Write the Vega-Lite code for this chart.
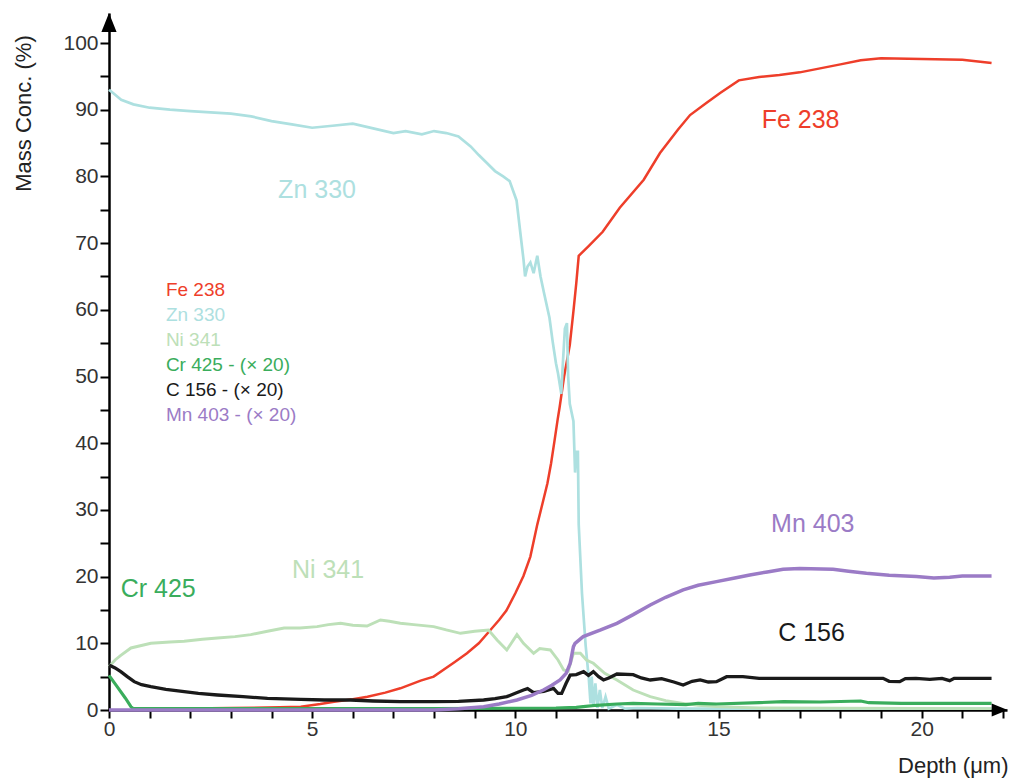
{
  "$schema": "https://vega.github.io/schema/vega-lite/v6.json",
  "autosize": "none",
  "width": 898,
  "height": 697,
  "padding": {"left": 109, "top": 13, "right": 4, "bottom": 71},
  "background": "white",
  "config": {
    "view": {"stroke": null},
    "font": "Liberation Sans",
    "axis": {"ticks": true, "tickColor": "#000000", "tickWidth": 2, "tickOpacity": 1, "grid": false, "domainColor": "#000000", "domainWidth": 2.5},
    "axisX": {"tickSize": 8},
    "axisY": {"tickSize": 9}
  },
  "datasets": {
    "lines": [
      {"s":"Fe 238","x":1.5,"y":0.2},{"s":"Fe 238","x":3.0,"y":0.3},{"s":"Fe 238","x":4.2,"y":0.4},{"s":"Fe 238","x":4.72,"y":0.5},{"s":"Fe 238","x":5.2,"y":0.9},{"s":"Fe 238","x":5.54,"y":1.25},{"s":"Fe 238","x":6.0,"y":1.6},{"s":"Fe 238","x":6.36,"y":2.0},{"s":"Fe 238","x":6.8,"y":2.6},{"s":"Fe 238","x":7.17,"y":3.25},{"s":"Fe 238","x":7.67,"y":4.4},{"s":"Fe 238","x":7.99,"y":5.0},{"s":"Fe 238","x":8.51,"y":7.2},{"s":"Fe 238","x":8.81,"y":8.5},{"s":"Fe 238","x":9.1,"y":10.0},{"s":"Fe 238","x":9.36,"y":11.8},{"s":"Fe 238","x":9.6,"y":13.5},{"s":"Fe 238","x":9.78,"y":14.9},{"s":"Fe 238","x":10.0,"y":17.5},{"s":"Fe 238","x":10.2,"y":20.1},{"s":"Fe 238","x":10.37,"y":23.0},{"s":"Fe 238","x":10.54,"y":27.8},{"s":"Fe 238","x":10.67,"y":31.0},{"s":"Fe 238","x":10.79,"y":34.0},{"s":"Fe 238","x":10.88,"y":37.0},{"s":"Fe 238","x":10.96,"y":40.2},{"s":"Fe 238","x":11.04,"y":43.5},{"s":"Fe 238","x":11.09,"y":45.4},{"s":"Fe 238","x":11.2,"y":50.0},{"s":"Fe 238","x":11.34,"y":54.7},{"s":"Fe 238","x":11.43,"y":59.8},{"s":"Fe 238","x":11.5,"y":64.0},{"s":"Fe 238","x":11.56,"y":68.1},{"s":"Fe 238","x":11.81,"y":69.6},{"s":"Fe 238","x":12.15,"y":71.7},{"s":"Fe 238","x":12.57,"y":75.3},{"s":"Fe 238","x":13.16,"y":79.5},{"s":"Fe 238","x":13.56,"y":83.5},{"s":"Fe 238","x":14.0,"y":87.0},{"s":"Fe 238","x":14.3,"y":89.2},{"s":"Fe 238","x":14.7,"y":91.0},{"s":"Fe 238","x":15.04,"y":92.5},{"s":"Fe 238","x":15.5,"y":94.4},{"s":"Fe 238","x":16.0,"y":94.9},{"s":"Fe 238","x":16.5,"y":95.2},{"s":"Fe 238","x":17.0,"y":95.6},{"s":"Fe 238","x":17.5,"y":96.2},{"s":"Fe 238","x":18.0,"y":96.8},{"s":"Fe 238","x":18.5,"y":97.4},{"s":"Fe 238","x":19.0,"y":97.7},{"s":"Fe 238","x":20.0,"y":97.6},{"s":"Fe 238","x":21.0,"y":97.5},{"s":"Fe 238","x":21.72,"y":97.0},

      {"s":"Zn 330","x":0,"y":93},{"s":"Zn 330","x":0.1,"y":92.5},{"s":"Zn 330","x":0.3,"y":91.5},{"s":"Zn 330","x":0.6,"y":90.8},{"s":"Zn 330","x":1.0,"y":90.3},{"s":"Zn 330","x":1.5,"y":90.0},{"s":"Zn 330","x":2.0,"y":89.8},{"s":"Zn 330","x":2.5,"y":89.6},{"s":"Zn 330","x":3.0,"y":89.4},{"s":"Zn 330","x":3.5,"y":89.0},{"s":"Zn 330","x":4.0,"y":88.3},{"s":"Zn 330","x":4.5,"y":87.8},{"s":"Zn 330","x":5.0,"y":87.3},{"s":"Zn 330","x":5.5,"y":87.6},{"s":"Zn 330","x":6.0,"y":87.9},{"s":"Zn 330","x":6.5,"y":87.2},{"s":"Zn 330","x":7.0,"y":86.5},{"s":"Zn 330","x":7.3,"y":86.8},{"s":"Zn 330","x":7.7,"y":86.3},{"s":"Zn 330","x":8.0,"y":86.8},{"s":"Zn 330","x":8.3,"y":86.5},{"s":"Zn 330","x":8.6,"y":86.0},{"s":"Zn 330","x":8.9,"y":84.5},{"s":"Zn 330","x":9.1,"y":83.2},{"s":"Zn 330","x":9.3,"y":82.0},{"s":"Zn 330","x":9.5,"y":80.8},{"s":"Zn 330","x":9.7,"y":80.0},{"s":"Zn 330","x":9.86,"y":79.3},{"s":"Zn 330","x":10.03,"y":76.4},{"s":"Zn 330","x":10.12,"y":71.7},{"s":"Zn 330","x":10.2,"y":67.6},{"s":"Zn 330","x":10.24,"y":65.0},{"s":"Zn 330","x":10.3,"y":66.5},{"s":"Zn 330","x":10.37,"y":67.1},{"s":"Zn 330","x":10.45,"y":65.5},{"s":"Zn 330","x":10.54,"y":68.1},{"s":"Zn 330","x":10.62,"y":65.0},{"s":"Zn 330","x":10.71,"y":62.4},{"s":"Zn 330","x":10.84,"y":58.8},{"s":"Zn 330","x":10.92,"y":55.2},{"s":"Zn 330","x":11.0,"y":52.0},{"s":"Zn 330","x":11.05,"y":50.5},{"s":"Zn 330","x":11.13,"y":47.4},{"s":"Zn 330","x":11.17,"y":52.0},{"s":"Zn 330","x":11.22,"y":57.2},{"s":"Zn 330","x":11.27,"y":58.0},{"s":"Zn 330","x":11.3,"y":50.0},{"s":"Zn 330","x":11.34,"y":45.9},{"s":"Zn 330","x":11.43,"y":43.3},{"s":"Zn 330","x":11.47,"y":35.6},{"s":"Zn 330","x":11.5,"y":38.7},{"s":"Zn 330","x":11.54,"y":38.7},{"s":"Zn 330","x":11.56,"y":27.8},{"s":"Zn 330","x":11.64,"y":17.5},{"s":"Zn 330","x":11.73,"y":9.7},{"s":"Zn 330","x":11.81,"y":4.6},{"s":"Zn 330","x":11.85,"y":1.0},{"s":"Zn 330","x":11.88,"y":5.0},{"s":"Zn 330","x":11.92,"y":0.5},{"s":"Zn 330","x":11.97,"y":4.0},{"s":"Zn 330","x":12.02,"y":0.3},{"s":"Zn 330","x":12.08,"y":3.0},{"s":"Zn 330","x":12.14,"y":0.3},{"s":"Zn 330","x":12.22,"y":2.0},{"s":"Zn 330","x":12.3,"y":0.2},{"s":"Zn 330","x":12.5,"y":0.8},{"s":"Zn 330","x":12.7,"y":0.2},{"s":"Zn 330","x":13.0,"y":0.3},{"s":"Zn 330","x":14.0,"y":0.2},{"s":"Zn 330","x":21.72,"y":0.2},

      {"s":"Ni 341","x":0,"y":6.5},{"s":"Ni 341","x":0.15,"y":7.5},{"s":"Ni 341","x":0.29,"y":8.2},{"s":"Ni 341","x":0.54,"y":9.3},{"s":"Ni 341","x":1.03,"y":10.0},{"s":"Ni 341","x":1.5,"y":10.2},{"s":"Ni 341","x":1.85,"y":10.3},{"s":"Ni 341","x":2.3,"y":10.6},{"s":"Ni 341","x":2.67,"y":10.8},{"s":"Ni 341","x":3.1,"y":11.0},{"s":"Ni 341","x":3.49,"y":11.3},{"s":"Ni 341","x":3.9,"y":11.8},{"s":"Ni 341","x":4.31,"y":12.3},{"s":"Ni 341","x":4.7,"y":12.3},{"s":"Ni 341","x":5.12,"y":12.5},{"s":"Ni 341","x":5.4,"y":12.8},{"s":"Ni 341","x":5.7,"y":13.0},{"s":"Ni 341","x":6.0,"y":12.7},{"s":"Ni 341","x":6.35,"y":12.6},{"s":"Ni 341","x":6.68,"y":13.5},{"s":"Ni 341","x":6.9,"y":13.3},{"s":"Ni 341","x":7.17,"y":13.0},{"s":"Ni 341","x":7.5,"y":12.8},{"s":"Ni 341","x":7.99,"y":12.5},{"s":"Ni 341","x":8.3,"y":12.0},{"s":"Ni 341","x":8.65,"y":11.5},{"s":"Ni 341","x":9.0,"y":11.8},{"s":"Ni 341","x":9.34,"y":12.0},{"s":"Ni 341","x":9.55,"y":10.5},{"s":"Ni 341","x":9.79,"y":9.0},{"s":"Ni 341","x":9.9,"y":10.0},{"s":"Ni 341","x":10.04,"y":11.3},{"s":"Ni 341","x":10.2,"y":10.0},{"s":"Ni 341","x":10.45,"y":8.5},{"s":"Ni 341","x":10.6,"y":9.2},{"s":"Ni 341","x":10.86,"y":9.0},{"s":"Ni 341","x":11.05,"y":7.5},{"s":"Ni 341","x":11.19,"y":6.0},{"s":"Ni 341","x":11.3,"y":5.8},{"s":"Ni 341","x":11.43,"y":8.5},{"s":"Ni 341","x":11.6,"y":8.5},{"s":"Ni 341","x":11.75,"y":7.5},{"s":"Ni 341","x":11.92,"y":7.0},{"s":"Ni 341","x":12.2,"y":5.5},{"s":"Ni 341","x":12.5,"y":4.5},{"s":"Ni 341","x":12.9,"y":3.0},{"s":"Ni 341","x":13.32,"y":2.0},{"s":"Ni 341","x":13.7,"y":1.4},{"s":"Ni 341","x":14.13,"y":1.0},{"s":"Ni 341","x":14.5,"y":0.7},{"s":"Ni 341","x":14.95,"y":0.5},{"s":"Ni 341","x":16.0,"y":0.3},{"s":"Ni 341","x":21.72,"y":0.2},

      {"s":"Cr 425","x":0,"y":5.2},{"s":"Cr 425","x":0.2,"y":3.5},{"s":"Cr 425","x":0.4,"y":1.8},{"s":"Cr 425","x":0.54,"y":0.5},{"s":"Cr 425","x":0.6,"y":0.2},{"s":"Cr 425","x":1.0,"y":0.2},{"s":"Cr 425","x":8.0,"y":0.2},{"s":"Cr 425","x":11.0,"y":0.3},{"s":"Cr 425","x":11.5,"y":0.4},{"s":"Cr 425","x":11.67,"y":0.5},{"s":"Cr 425","x":12.0,"y":0.7},{"s":"Cr 425","x":12.5,"y":0.9},{"s":"Cr 425","x":12.9,"y":1.0},{"s":"Cr 425","x":13.5,"y":0.9},{"s":"Cr 425","x":14.2,"y":0.8},{"s":"Cr 425","x":14.5,"y":1.0},{"s":"Cr 425","x":14.95,"y":0.9},{"s":"Cr 425","x":16.0,"y":1.1},{"s":"Cr 425","x":16.6,"y":1.25},{"s":"Cr 425","x":17.5,"y":1.2},{"s":"Cr 425","x":18.5,"y":1.35},{"s":"Cr 425","x":18.7,"y":1.1},{"s":"Cr 425","x":19.5,"y":1.0},{"s":"Cr 425","x":21.72,"y":1.0},

      {"s":"C 156","x":0,"y":6.75},{"s":"C 156","x":0.15,"y":6.3},{"s":"C 156","x":0.29,"y":5.75},{"s":"C 156","x":0.45,"y":5.0},{"s":"C 156","x":0.62,"y":4.25},{"s":"C 156","x":0.8,"y":3.8},{"s":"C 156","x":1.03,"y":3.5},{"s":"C 156","x":1.4,"y":3.1},{"s":"C 156","x":1.85,"y":2.75},{"s":"C 156","x":2.2,"y":2.5},{"s":"C 156","x":2.67,"y":2.25},{"s":"C 156","x":3.3,"y":2.0},{"s":"C 156","x":3.9,"y":1.75},{"s":"C 156","x":4.72,"y":1.6},{"s":"C 156","x":5.3,"y":1.5},{"s":"C 156","x":5.95,"y":1.5},{"s":"C 156","x":6.5,"y":1.35},{"s":"C 156","x":7.17,"y":1.25},{"s":"C 156","x":7.99,"y":1.25},{"s":"C 156","x":8.6,"y":1.3},{"s":"C 156","x":9.22,"y":1.5},{"s":"C 156","x":9.5,"y":1.7},{"s":"C 156","x":9.79,"y":2.0},{"s":"C 156","x":10.0,"y":2.5},{"s":"C 156","x":10.2,"y":3.0},{"s":"C 156","x":10.3,"y":3.2},{"s":"C 156","x":10.45,"y":2.6},{"s":"C 156","x":10.7,"y":2.8},{"s":"C 156","x":10.94,"y":3.25},{"s":"C 156","x":11.05,"y":2.5},{"s":"C 156","x":11.14,"y":2.5},{"s":"C 156","x":11.25,"y":4.0},{"s":"C 156","x":11.35,"y":5.25},{"s":"C 156","x":11.5,"y":5.3},{"s":"C 156","x":11.68,"y":5.75},{"s":"C 156","x":11.8,"y":5.2},{"s":"C 156","x":11.92,"y":5.75},{"s":"C 156","x":12.05,"y":5.0},{"s":"C 156","x":12.17,"y":4.5},{"s":"C 156","x":12.3,"y":4.8},{"s":"C 156","x":12.5,"y":5.4},{"s":"C 156","x":12.9,"y":5.3},{"s":"C 156","x":13.1,"y":4.8},{"s":"C 156","x":13.32,"y":4.5},{"s":"C 156","x":13.6,"y":4.7},{"s":"C 156","x":13.9,"y":4.2},{"s":"C 156","x":14.13,"y":3.75},{"s":"C 156","x":14.35,"y":4.3},{"s":"C 156","x":14.55,"y":4.5},{"s":"C 156","x":14.75,"y":4.2},{"s":"C 156","x":14.95,"y":4.25},{"s":"C 156","x":15.2,"y":5.0},{"s":"C 156","x":15.6,"y":5.0},{"s":"C 156","x":16.0,"y":4.75},{"s":"C 156","x":16.5,"y":4.75},{"s":"C 156","x":17.5,"y":4.75},{"s":"C 156","x":19.05,"y":4.75},{"s":"C 156","x":19.2,"y":4.3},{"s":"C 156","x":19.46,"y":4.25},{"s":"C 156","x":19.6,"y":4.7},{"s":"C 156","x":19.86,"y":4.75},{"s":"C 156","x":20.2,"y":4.6},{"s":"C 156","x":20.5,"y":4.75},{"s":"C 156","x":20.69,"y":4.4},{"s":"C 156","x":20.8,"y":4.75},{"s":"C 156","x":21.72,"y":4.75},

      {"s":"Mn 403","x":0,"y":0},{"s":"Mn 403","x":8.0,"y":0},{"s":"Mn 403","x":8.6,"y":0.2},{"s":"Mn 403","x":9.22,"y":0.5},{"s":"Mn 403","x":9.6,"y":0.9},{"s":"Mn 403","x":10.04,"y":1.5},{"s":"Mn 403","x":10.4,"y":2.2},{"s":"Mn 403","x":10.69,"y":3.0},{"s":"Mn 403","x":10.9,"y":3.7},{"s":"Mn 403","x":11.1,"y":4.5},{"s":"Mn 403","x":11.25,"y":5.5},{"s":"Mn 403","x":11.35,"y":7.0},{"s":"Mn 403","x":11.43,"y":9.5},{"s":"Mn 403","x":11.47,"y":10.0},{"s":"Mn 403","x":11.67,"y":11.0},{"s":"Mn 403","x":12.1,"y":12.0},{"s":"Mn 403","x":12.5,"y":13.0},{"s":"Mn 403","x":12.9,"y":14.3},{"s":"Mn 403","x":13.32,"y":15.75},{"s":"Mn 403","x":13.7,"y":16.9},{"s":"Mn 403","x":14.13,"y":18.0},{"s":"Mn 403","x":14.5,"y":18.7},{"s":"Mn 403","x":14.95,"y":19.25},{"s":"Mn 403","x":15.4,"y":19.8},{"s":"Mn 403","x":15.77,"y":20.25},{"s":"Mn 403","x":16.2,"y":20.7},{"s":"Mn 403","x":16.59,"y":21.1},{"s":"Mn 403","x":17.0,"y":21.2},{"s":"Mn 403","x":17.82,"y":21.1},{"s":"Mn 403","x":18.2,"y":20.8},{"s":"Mn 403","x":18.64,"y":20.5},{"s":"Mn 403","x":19.2,"y":20.2},{"s":"Mn 403","x":19.87,"y":20.0},{"s":"Mn 403","x":20.3,"y":19.8},{"s":"Mn 403","x":20.69,"y":19.9},{"s":"Mn 403","x":21.0,"y":20.1},{"s":"Mn 403","x":21.72,"y":20.1}
    ],
    "labels": [
      {"s":"Fe 238","label":"Fe 238","x":17.02,"y":88.5},
      {"s":"Zn 330","label":"Zn 330","x":5.12,"y":78.0},
      {"s":"Ni 341","label":"Ni 341","x":5.39,"y":21.0},
      {"s":"Cr 425","label":"Cr 425","x":1.21,"y":18.1},
      {"s":"Mn 403","label":"Mn 403","x":17.32,"y":27.9},
      {"s":"C 156","label":"C 156","x":17.29,"y":11.5}
    ],
    "legend": [
      {"s":"Fe 238","label":"Fe 238","x":1.4,"y":63.0},
      {"s":"Zn 330","label":"Zn 330","x":1.4,"y":59.2},
      {"s":"Ni 341","label":"Ni 341","x":1.4,"y":55.5},
      {"s":"Cr 425","label":"Cr 425 - (× 20)","x":1.4,"y":51.7},
      {"s":"C 156","label":"C 156 - (× 20)","x":1.4,"y":48.0},
      {"s":"Mn 403","label":"Mn 403 - (× 20)","x":1.4,"y":44.2}
    ],
    "one": [{}]
  },
  "layer": [
    {
      "data": {"name": "lines"},
      "mark": {"type": "line", "interpolate": "linear"},
      "encoding": {
        "x": {
          "field": "x", "type": "quantitative",
          "scale": {"domain": [0, 22.1], "nice": false, "zero": false},
          "axis": {
            "values": [0,1,2,3,4,5,6,7,8,9,10,11,12,13,14,15,16,17,18,19,20,21,22],
            "labelExpr": "datum.value % 5 === 0 ? datum.label : ''",
            "ticks": true, "tickColor": "#000000", "tickSize": 8, "tickWidth": 2,
            "labelFont": "Liberation Sans", "labelFontSize": 21, "labelColor": "#333",
            "labelPadding": 0, "labelFlush": false, "labelOverlap": false,
            "title": "Depth (μm)", "titleFont": "Liberation Sans", "titleFontSize": 22,
            "titleFontWeight": "normal", "titleColor": "#222",
            "titleAnchor": "end", "titleAlign": "right", "titleBaseline": "alphabetic",
            "titleX": 899, "titleY": 62
          }
        },
        "y": {
          "field": "y", "type": "quantitative",
          "scale": {"domain": [0, 104.5], "nice": false},
          "axis": {
            "values": [0,5,10,15,20,25,30,35,40,45,50,55,60,65,70,75,80,85,90,95,100],
            "labelExpr": "datum.value % 10 === 0 ? datum.label : ''",
            "ticks": true, "tickColor": "#000000", "tickSize": 9, "tickWidth": 2,
            "labelFont": "Liberation Sans", "labelFontSize": 21, "labelColor": "#333",
            "labelPadding": 2, "labelOverlap": false, "labelFlush": false,
            "title": "Mass Conc. (%)", "titleFont": "Liberation Sans", "titleFontSize": 22,
            "titleFontWeight": "normal", "titleColor": "#222",
            "titleAngle": 270, "titleAlign": "center", "titleBaseline": "middle",
            "titleX": -86, "titleY": 100
          }
        },
        "color": {
          "field": "s", "type": "nominal",
          "scale": {
            "domain": ["Fe 238","Zn 330","Ni 341","Cr 425","C 156","Mn 403"],
            "range": ["#ee3e2a","#ade0e0","#bde0b8","#3aad5c","#1a1a1a","#9b7bc6"]
          },
          "legend": null
        },
        "size": {
          "field": "s", "type": "nominal",
          "scale": {
            "domain": ["Fe 238","Zn 330","Ni 341","Cr 425","C 156","Mn 403"],
            "range": [2.5, 3.5, 3, 2.5, 2.5, 3]
          },
          "legend": null
        }
      }
    },
    {
      "data": {"name": "labels"},
      "mark": {"type": "text", "font": "Liberation Sans", "fontSize": 25, "align": "center", "baseline": "middle"},
      "encoding": {
        "x": {
          "field": "x", "type": "quantitative",
          "axis": {
            "values": [0,1,2,3,4,5,6,7,8,9,10,11,12,13,14,15,16,17,18,19,20,21,22],
            "labelExpr": "datum.value % 5 === 0 ? datum.label : ''",
            "ticks": true, "tickColor": "#000000", "tickSize": 8, "tickWidth": 2,
            "labelFont": "Liberation Sans", "labelFontSize": 21, "labelColor": "#333",
            "labelPadding": 0, "labelFlush": false, "labelOverlap": false,
            "title": "Depth (μm)", "titleFont": "Liberation Sans", "titleFontSize": 22,
            "titleFontWeight": "normal", "titleColor": "#222",
            "titleAnchor": "end", "titleAlign": "right", "titleBaseline": "alphabetic",
            "titleX": 899, "titleY": 62
          }
        },
        "y": {
          "field": "y", "type": "quantitative",
          "axis": {
            "values": [0,5,10,15,20,25,30,35,40,45,50,55,60,65,70,75,80,85,90,95,100],
            "labelExpr": "datum.value % 10 === 0 ? datum.label : ''",
            "ticks": true, "tickColor": "#000000", "tickSize": 9, "tickWidth": 2,
            "labelFont": "Liberation Sans", "labelFontSize": 21, "labelColor": "#333",
            "labelPadding": 2, "labelOverlap": false, "labelFlush": false,
            "title": "Mass Conc. (%)", "titleFont": "Liberation Sans", "titleFontSize": 22,
            "titleFontWeight": "normal", "titleColor": "#222",
            "titleAngle": 270, "titleAlign": "center", "titleBaseline": "middle",
            "titleX": -86, "titleY": 100
          }
        },
        "text": {"field": "label"},
        "color": {"field": "s", "type": "nominal", "legend": null}
      }
    },
    {
      "data": {"name": "legend"},
      "mark": {"type": "text", "font": "Liberation Sans", "fontSize": 19, "align": "left", "baseline": "middle"},
      "encoding": {
        "x": {
          "field": "x", "type": "quantitative",
          "axis": {
            "values": [0,1,2,3,4,5,6,7,8,9,10,11,12,13,14,15,16,17,18,19,20,21,22],
            "labelExpr": "datum.value % 5 === 0 ? datum.label : ''",
            "ticks": true, "tickColor": "#000000", "tickSize": 8, "tickWidth": 2,
            "labelFont": "Liberation Sans", "labelFontSize": 21, "labelColor": "#333",
            "labelPadding": 0, "labelFlush": false, "labelOverlap": false,
            "title": "Depth (μm)", "titleFont": "Liberation Sans", "titleFontSize": 22,
            "titleFontWeight": "normal", "titleColor": "#222",
            "titleAnchor": "end", "titleAlign": "right", "titleBaseline": "alphabetic",
            "titleX": 899, "titleY": 62
          }
        },
        "y": {
          "field": "y", "type": "quantitative",
          "axis": {
            "values": [0,5,10,15,20,25,30,35,40,45,50,55,60,65,70,75,80,85,90,95,100],
            "labelExpr": "datum.value % 10 === 0 ? datum.label : ''",
            "ticks": true, "tickColor": "#000000", "tickSize": 9, "tickWidth": 2,
            "labelFont": "Liberation Sans", "labelFontSize": 21, "labelColor": "#333",
            "labelPadding": 2, "labelOverlap": false, "labelFlush": false,
            "title": "Mass Conc. (%)", "titleFont": "Liberation Sans", "titleFontSize": 22,
            "titleFontWeight": "normal", "titleColor": "#222",
            "titleAngle": 270, "titleAlign": "center", "titleBaseline": "middle",
            "titleX": -86, "titleY": 100
          }
        },
        "text": {"field": "label"},
        "color": {"field": "s", "type": "nominal", "legend": null}
      }
    },
    {
      "data": {"name": "one"},
      "mark": {"type": "point", "shape": "M0,-1L0.8,1L-0.8,1Z", "filled": true, "color": "#000", "opacity": 1, "size": 361},
      "encoding": {
        "x": {
          "datum": 0, "type": "quantitative",
          "axis": {
            "values": [0,1,2,3,4,5,6,7,8,9,10,11,12,13,14,15,16,17,18,19,20,21,22],
            "labelExpr": "datum.value % 5 === 0 ? datum.label : ''",
            "ticks": true, "tickColor": "#000000", "tickSize": 8, "tickWidth": 2,
            "labelFont": "Liberation Sans", "labelFontSize": 21, "labelColor": "#333",
            "labelPadding": 0, "labelFlush": false, "labelOverlap": false,
            "title": "Depth (μm)", "titleFont": "Liberation Sans", "titleFontSize": 22,
            "titleFontWeight": "normal", "titleColor": "#222",
            "titleAnchor": "end", "titleAlign": "right", "titleBaseline": "alphabetic",
            "titleX": 899, "titleY": 62
          }
        },
        "y": {
          "datum": 103.07, "type": "quantitative",
          "axis": {
            "values": [0,5,10,15,20,25,30,35,40,45,50,55,60,65,70,75,80,85,90,95,100],
            "labelExpr": "datum.value % 10 === 0 ? datum.label : ''",
            "ticks": true, "tickColor": "#000000", "tickSize": 9, "tickWidth": 2,
            "labelFont": "Liberation Sans", "labelFontSize": 21, "labelColor": "#333",
            "labelPadding": 2, "labelOverlap": false, "labelFlush": false,
            "title": "Mass Conc. (%)", "titleFont": "Liberation Sans", "titleFontSize": 22,
            "titleFontWeight": "normal", "titleColor": "#222",
            "titleAngle": 270, "titleAlign": "center", "titleBaseline": "middle",
            "titleX": -86, "titleY": 100
          }
        }
      }
    },
    {
      "data": {"name": "one"},
      "mark": {"type": "point", "shape": "M1,0L-1,-0.8L-1,0.8Z", "filled": true, "color": "#000", "opacity": 1, "size": 256},
      "encoding": {
        "x": {
          "datum": 21.92, "type": "quantitative",
          "axis": {
            "values": [0,1,2,3,4,5,6,7,8,9,10,11,12,13,14,15,16,17,18,19,20,21,22],
            "labelExpr": "datum.value % 5 === 0 ? datum.label : ''",
            "ticks": true, "tickColor": "#000000", "tickSize": 8, "tickWidth": 2,
            "labelFont": "Liberation Sans", "labelFontSize": 21, "labelColor": "#333",
            "labelPadding": 0, "labelFlush": false, "labelOverlap": false,
            "title": "Depth (μm)", "titleFont": "Liberation Sans", "titleFontSize": 22,
            "titleFontWeight": "normal", "titleColor": "#222",
            "titleAnchor": "end", "titleAlign": "right", "titleBaseline": "alphabetic",
            "titleX": 899, "titleY": 62
          }
        },
        "y": {
          "datum": 0, "type": "quantitative",
          "axis": {
            "values": [0,5,10,15,20,25,30,35,40,45,50,55,60,65,70,75,80,85,90,95,100],
            "labelExpr": "datum.value % 10 === 0 ? datum.label : ''",
            "ticks": true, "tickColor": "#000000", "tickSize": 9, "tickWidth": 2,
            "labelFont": "Liberation Sans", "labelFontSize": 21, "labelColor": "#333",
            "labelPadding": 2, "labelOverlap": false, "labelFlush": false,
            "title": "Mass Conc. (%)", "titleFont": "Liberation Sans", "titleFontSize": 22,
            "titleFontWeight": "normal", "titleColor": "#222",
            "titleAngle": 270, "titleAlign": "center", "titleBaseline": "middle",
            "titleX": -86, "titleY": 100
          }
        }
      }
    }
  ]
}
